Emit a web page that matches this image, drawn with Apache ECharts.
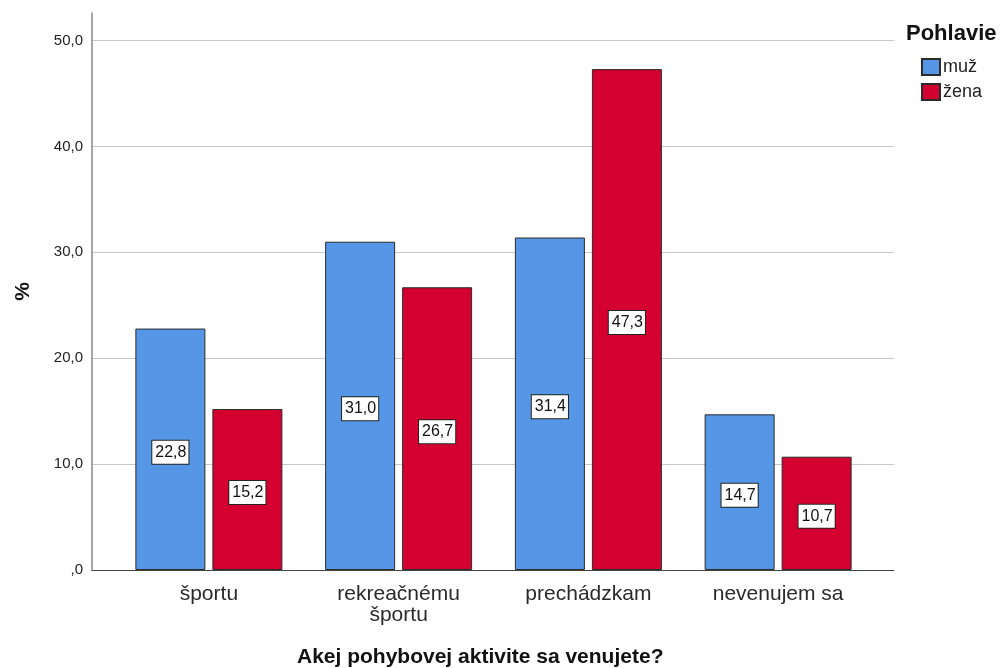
<!DOCTYPE html>
<html>
<head>
<meta charset="utf-8">
<script src="https://cdn.jsdelivr.net/npm/echarts@6/dist/echarts.min.js"></script>
<style>html,body{margin:0;padding:0;background:#fff}#c{width:1001px;height:668px}</style>
</head>
<body>
<div id="c"></div>
<script>
const categories = ['športu', 'rekreačnému\nšportu', 'prechádzkam', 'nevenujem sa'];
const seriesNames = ['muž', 'žena'];
const muz = [22.8, 31.0, 31.4, 14.7];
const zena = [15.2, 26.7, 47.3, 10.7];
const yMax = 52.6;
const yInterval = 10;

const FONT = "'Liberation Sans', Arial, sans-serif";
const fmt = v => (v === 0 ? ',0' : Number(v).toFixed(1).replace('.', ','));

const chart = echarts.init(document.getElementById('c'), null, {renderer: 'canvas'});
const labelOpt = {
  show: true, position: 'inside', offset: [0, 3], formatter: p => fmt(p.value),
  color: '#111', fontSize: 16, fontFamily: FONT,
  backgroundColor: '#fff', borderColor: '#222', borderWidth: 1, padding: [4, 2, 3, 3]
};
chart.setOption({
  animation: false,
  textStyle: {fontFamily: FONT},
  title: [
    {text: 'Akej pohybovej aktivite sa venujete?', left: 297, top: 647,
     textStyle: {fontSize: 21, fontWeight: 'bold', color: '#111', fontFamily: FONT}, padding: 0},
    {text: 'Pohlavie', left: 906, top: 23,
     textStyle: {fontSize: 22, fontWeight: 'bold', color: '#111', fontFamily: FONT}, padding: 0}
  ],
  legend: {
    orient: 'vertical', left: 921, top: 58, itemWidth: 18, itemHeight: 16, itemGap: 7,
    icon: 'rect', padding: 0,
    textStyle: {fontSize: 18, color: '#222', fontFamily: FONT, padding: [2, 0, 0, -2]},
    data: seriesNames
  },
  grid: [
    {left: 92, right: 107, top: 13, bottom: 98},
    {left: 114, right: 128, top: 13, bottom: 98}
  ],
  xAxis: [
    {type: 'category', gridIndex: 0, data: categories, boundaryGap: true,
     axisLine: {show: true, lineStyle: {color: '#444', width: 1}},
     axisTick: {show: false}, axisLabel: {show: false}, splitLine: {show: false}},
    {type: 'category', gridIndex: 1, data: categories,
     axisLine: {show: false}, axisTick: {show: false},
     axisLabel: {fontSize: 21, color: '#2a2a2a', margin: 14, lineHeight: 21, fontFamily: FONT}}
  ],
  yAxis: [
    {type: 'value', gridIndex: 0, min: 0, max: yMax, interval: yInterval,
     name: '%', nameLocation: 'middle', nameGap: 58, nameRotate: 90,
     nameTextStyle: {fontSize: 21, fontWeight: 'bold', color: '#111', fontFamily: FONT},
     axisLine: {show: true, lineStyle: {color: '#888', width: 1.5}},
     axisTick: {show: false},
     axisLabel: {fontSize: 15, color: '#222', margin: 9, formatter: fmt, showMaxLabel: false, fontFamily: FONT},
     splitLine: {show: true, showMinLine: false, showMaxLine: false, lineStyle: {color: '#c8c8c8', width: 1}}},
    {type: 'value', gridIndex: 1, min: 0, max: yMax, interval: yInterval, show: false,
     splitLine: {show: false}}
  ],
  series: [
    {name: seriesNames[0], type: 'bar', xAxisIndex: 1, yAxisIndex: 1, data: muz,
     barWidth: 70, barGap: '10%',
     itemStyle: {color: '#5597E6', borderColor: '#2b2b2b', borderWidth: 1}, label: labelOpt, z: 3},
    {name: seriesNames[1], type: 'bar', xAxisIndex: 1, yAxisIndex: 1, data: zena,
     barWidth: 70, barGap: '10%',
     itemStyle: {color: '#D4002F', borderColor: '#2b2b2b', borderWidth: 1}, label: labelOpt, z: 3}
  ]
});
</script>
</body>
</html>
